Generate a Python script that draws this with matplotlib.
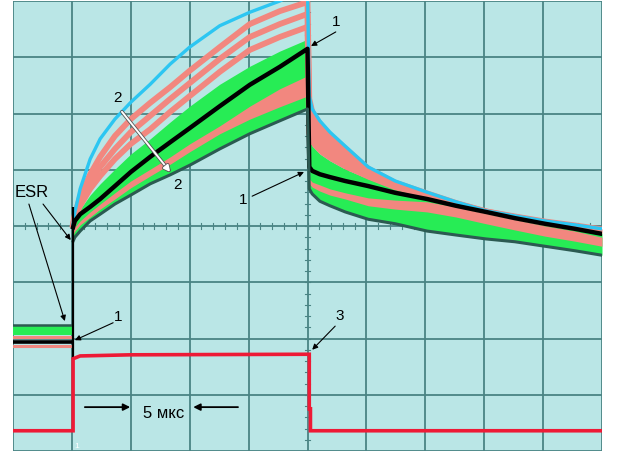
import matplotlib
matplotlib.use('Agg')
import matplotlib.pyplot as plt
import matplotlib.patheffects as pe
import numpy as np

plt.rcParams['font.family'] = ['Liberation Sans', 'DejaVu Sans']

# ---- data (x in screen divisions, 1 div = 1.25 us ; y in vertical divisions) ----
# before the pulse
pre_x = [0.0, 1.0]
pre_dkgreen = [2.24, 2.24]
pre_green_bot = [2.06, 2.06]
pre_pink_top = [2.03, 2.03]
pre_black = [1.94, 1.94]
pre_pink_bot = [1.87, 1.87]
esr_top = 4.34

# charging (pulse on)
chg_x = [1.02, 1.05, 1.14, 1.31, 1.48, 1.73, 2.0, 2.33, 2.67, 3.0, 3.51, 4.02, 4.53, 5.0]
chg_cyan = [4.04, 4.25, 4.66, 5.19, 5.55, 5.90, 6.20, 6.52, 6.88, 7.18, 7.56, 7.80, 8.0, 8.25]
chg_pink1 = [4.04, 4.21, 4.52, 4.92, 5.23, 5.60, 5.90, 6.19, 6.47, 6.76, 7.18, 7.59, 7.82, 7.98]
chg_pink2 = [4.02, 4.18, 4.43, 4.78, 5.05, 5.37, 5.67, 5.96, 6.26, 6.54, 6.97, 7.36, 7.59, 7.77]
chg_pink3 = [4.02, 4.16, 4.36, 4.66, 4.89, 5.19, 5.46, 5.72, 6.03, 6.31, 6.74, 7.13, 7.36, 7.54]
chg_green_top = [4.0, 4.12, 4.30, 4.55, 4.75, 5.01, 5.28, 5.55, 5.85, 6.13, 6.52, 6.84, 7.11, 7.32]
chg_black = [3.98, 4.09, 4.21, 4.34, 4.48, 4.71, 4.96, 5.23, 5.49, 5.74, 6.13, 6.51, 6.83, 7.15]
chg_pinklo_top = [3.91, 3.98, 4.09, 4.25, 4.39, 4.59, 4.80, 5.01, 5.23, 5.46, 5.78, 6.13, 6.44, 6.67]
chg_pinklo_bot = [3.84, 3.91, 4.02, 4.16, 4.30, 4.48, 4.68, 4.89, 5.10, 5.32, 5.64, 5.90, 6.12, 6.31]
chg_dkgreen = [3.73, 3.80, 3.91, 4.09, 4.21, 4.39, 4.55, 4.75, 4.91, 5.08, 5.37, 5.64, 5.87, 6.08]

# discharge (pulse off)
dis_x = [5.03, 5.08, 5.21, 5.38, 5.64, 6.03, 6.49, 7.03, 7.52, 8.03, 8.52, 9.03, 9.54, 10.0]
dis_cyan = [6.31, 6.08, 5.87, 5.67, 5.42, 5.05, 4.80, 4.60, 4.43, 4.27, 4.18, 4.09, 4.02, 3.95]
dis_pink1 = [6.26, 6.03, 5.82, 5.62, 5.38, 5.02, 4.77, 4.58, 4.41, 4.26, 4.17, 4.08, 4.01, 3.94]
dis_pink2 = [5.95, 5.75, 5.58, 5.42, 5.22, 4.95, 4.73, 4.56, 4.40, 4.26, 4.16, 4.07, 3.99, 3.91]
dis_pink3 = [5.65, 5.50, 5.36, 5.23, 5.07, 4.88, 4.69, 4.54, 4.38, 4.25, 4.15, 4.05, 3.97, 3.89]
dis_green_top = [5.55, 5.42, 5.28, 5.16, 5.01, 4.84, 4.66, 4.52, 4.36, 4.25, 4.14, 4.04, 3.96, 3.87]
dis_black = [5.05, 4.98, 4.92, 4.87, 4.80, 4.71, 4.59, 4.48, 4.36, 4.25, 4.14, 4.04, 3.95, 3.86]
dis_pinklo_top = [4.84, 4.78, 4.73, 4.66, 4.59, 4.50, 4.46, 4.43, 4.34, 4.21, 4.11, 4.00, 3.91, 3.80]
dis_pinklo_bot = [4.75, 4.69, 4.62, 4.55, 4.48, 4.36, 4.30, 4.25, 4.16, 4.04, 3.93, 3.82, 3.73, 3.64]
dis_dkgreen = [4.66, 4.57, 4.44, 4.36, 4.25, 4.12, 4.04, 3.91, 3.84, 3.77, 3.72, 3.64, 3.56, 3.48]

# current pulse (trace 3)
pulse_x = [0.0, 1.02, 1.02, 1.14, 2.0, 5.03, 5.03, 5.05, 5.05, 10.0]
pulse_y = [0.36, 0.36, 1.64, 1.69, 1.71, 1.72, 0.75, 0.75, 0.36, 0.36]

# ---- colours ----
BG = '#bae6e6'
GRID = '#4a8484'
PINK = '#f2877f'
GREEN = '#27ec55'
CYAN = '#2cc6f2'
DKGREEN = '#2c5a52'
RED = '#ee1a36'

fig = plt.figure(figsize=(6.18, 4.56), dpi=100)
ax = fig.add_axes([13 / 618, 4 / 456, 589 / 618, 450 / 456])
ax.set_facecolor(BG)
ax.set_xlim(0, 10)
ax.set_ylim(0, 8)
ax.set_xticks([])
ax.set_yticks([])
for s in ax.spines.values():
    s.set_visible(False)

for i in range(11):
    ax.axvline(i, color=GRID, lw=1.3, zorder=0.5)
for j in range(9):
    ax.axhline(j, color=GRID, lw=1.3, zorder=0.5)
for t in np.arange(0, 10.001, 0.2):
    ax.plot([t, t], [3.94, 4.06], color=GRID, lw=0.8, zorder=0.5)
for t in np.arange(0, 8.001, 0.2):
    ax.plot([4.95, 5.05], [t, t], color=GRID, lw=0.8, zorder=0.5)

x = np.array(chg_x + dis_x)
cyan = np.array(chg_cyan + dis_cyan)
pink1 = np.array(chg_pink1 + dis_pink1)
pink2 = np.array(chg_pink2 + dis_pink2)
pink3 = np.array(chg_pink3 + dis_pink3)
green_top = np.array(chg_green_top + dis_green_top)
black = np.array(chg_black + dis_black)
pinklo_top = np.array(chg_pinklo_top + dis_pinklo_top)
pinklo_bot = np.array(chg_pinklo_bot + dis_pinklo_bot)
dkgreen = np.array(chg_dkgreen + dis_dkgreen)

# pre-pulse traces
ax.fill_between(pre_x, pre_green_bot, pre_dkgreen, color=GREEN, lw=0, zorder=2)
ax.plot(pre_x, pre_pink_top, color=PINK, lw=2.2, zorder=2)
ax.plot(pre_x, pre_pink_bot, color=PINK, lw=2.2, zorder=2)
ax.plot(pre_x, pre_black, color='black', lw=2.6, zorder=3)
ax.plot(pre_x, pre_dkgreen, color=DKGREEN, lw=1.8, zorder=3)

# capacitor voltage traces
ax.fill_between(x, green_top, dkgreen, color=GREEN, lw=0, zorder=2)
ax.fill_between(x, cyan, green_top, where=x >= 5.0, color=PINK, lw=0, zorder=2)
for p in (pink1, pink2, pink3):
    ax.plot(x, p, color=PINK, lw=4.2, zorder=2.2)
ax.plot(x, cyan, color=CYAN, lw=2.4, zorder=2.3)
ax.fill_between(x, pinklo_bot, pinklo_top, color=PINK, lw=0, zorder=2.4)
ax.plot(x, black, color='black', lw=3.2, zorder=3)
ax.plot(x, dkgreen, color=DKGREEN, lw=2.2, zorder=3)
ax.vlines(chg_x[0], pulse_y[2], esr_top, color='black', lw=1.6, zorder=3)

# pulse
ax.plot(pulse_x, pulse_y, color=RED, lw=2.6, zorder=4, solid_joinstyle='miter')

# ---- annotations ----
arr = dict(arrowstyle='-|>', color='black', lw=0.8, mutation_scale=8, shrinkA=0, shrinkB=0)
ax.text(0.32, 4.62, 'ESR', fontsize=12, ha='center', va='center', zorder=6)
ax.annotate('', xy=(0.88, 2.31), xytext=(0.27, 4.39), arrowprops=arr, zorder=6)
ax.annotate('', xy=(0.98, 3.75), xytext=(0.51, 4.39), arrowprops=arr, zorder=6)

ax.text(1.78, 2.40, '1', fontsize=11, ha='center', va='center', zorder=6)
ax.annotate('', xy=(1.05, 1.97), xytext=(1.70, 2.28), arrowprops=arr, zorder=6)
ax.text(3.90, 4.48, '1', fontsize=11, ha='center', va='center', zorder=6)
ax.annotate('', xy=(4.94, 4.96), xytext=(4.06, 4.53), arrowprops=arr, zorder=6)
ax.text(5.48, 7.64, '1', fontsize=11, ha='center', va='center', zorder=6)
ax.annotate('', xy=(5.06, 7.20), xytext=(5.48, 7.45), arrowprops=arr, zorder=6)

ax.text(1.77, 6.30, '2', fontsize=11, ha='center', va='center', zorder=6)
ax.text(2.80, 4.75, '2', fontsize=11, ha='center', va='center', zorder=6)
ax.annotate('', xy=(2.67, 4.96), xytext=(1.85, 6.03),
            arrowprops=dict(arrowstyle='-|>', color='white', lw=1.4, mutation_scale=9,
                            shrinkA=0, shrinkB=0,
                            path_effects=[pe.withStroke(linewidth=2.6, foreground='#555555')]),
            zorder=6)

ax.text(5.55, 2.42, '3', fontsize=11, ha='center', va='center', zorder=6)
ax.annotate('', xy=(5.08, 1.80), xytext=(5.47, 2.22), arrowprops=arr, zorder=6)

ax.text(2.56, 0.69, '5 мкс', fontsize=12, ha='center', va='center', zorder=6)
arr2 = dict(arrowstyle='-|>', color='black', lw=1.3, mutation_scale=10, shrinkA=0, shrinkB=0)
ax.annotate('', xy=(1.99, 0.78), xytext=(1.22, 0.78), arrowprops=arr2, zorder=6)
ax.annotate('', xy=(3.06, 0.78), xytext=(3.82, 0.78), arrowprops=arr2, zorder=6)
ax.text(1.09, 0.09, '1', fontsize=6, color='white', ha='center', va='center', zorder=6)

fig.savefig('out.png', dpi=100, facecolor='white')
